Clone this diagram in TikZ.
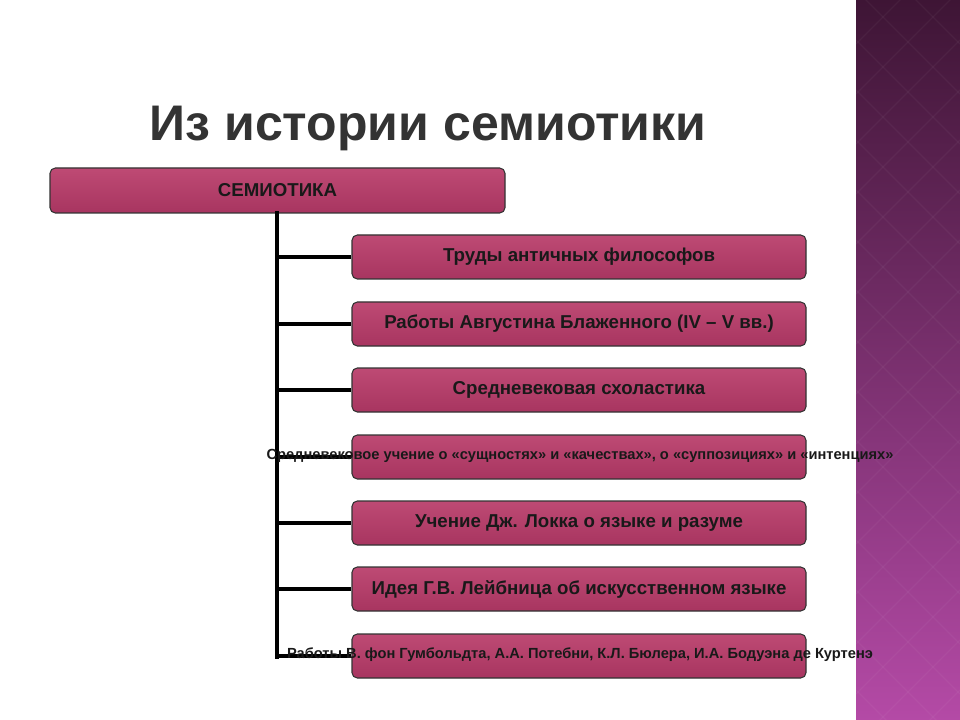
\documentclass[tikz,border=0pt]{standalone}
\usepackage{fontspec}
\setmainfont{Liberation Sans}
\begin{document}
\begin{tikzpicture}[x=0.75pt,y=-0.75pt,
  box/.style={draw=black!80,line width=0.8pt,rounded corners=4pt,top color=boxtop,bottom color=boxbot},
  lbl/.style={font=\bfseries\fontsize{14}{16}\selectfont,text=black!90},
  small/.style={font=\bfseries\fontsize{11}{13}\selectfont,text=black!90},
  conn/.style={line width=3.6pt,black}]
\definecolor{boxtop}{HTML}{BE4A74}
\definecolor{boxbot}{HTML}{A83560}
\definecolor{stripT}{HTML}{3E1535}
\definecolor{stripB}{HTML}{B44AA6}
\useasboundingbox (0,0) rectangle (960,720);
\fill[white] (0,0) rectangle (960,720);
\shade[top color=stripT,bottom color=stripB] (856,0) rectangle (960,720);
\foreach \i in {0,...,16}{
  \draw[white,opacity=0.04,line width=1pt] (856,\i*50-60) -- (960,\i*50+44);
  \draw[white,opacity=0.04,line width=1pt] (960,\i*50-60) -- (856,\i*50+44);}
\node[font=\bfseries\fontsize{37.5}{42}\selectfont,text=black!80] (title) at (428,128) {Из истории семиотики};
\node[box,minimum width=455*0.75pt,minimum height=45*0.75pt] (top) at (277.5,190.5) {};
\node[lbl] (topt) at (top) {СЕМИОТИКА};
\coordinate (v0) at (277,213);
\coordinate (v1) at (277,657);
\draw[conn,line cap=rect] (v0) -- (v1);
\foreach \n/\y in {1/257,2/324,3/390,4/457,5/523,6/589,7/656}{
  \node[box,minimum width=454*0.75pt,minimum height=44*0.75pt] (b\n) at (579,\y) {};
  \coordinate (c\n) at (277,\y);
  \draw[conn] (c\n) -- (b\n.west);
}
\node[lbl] at (b1) {Труды античных философов};
\node[lbl] at (b2) {Работы Августина Блаженного (IV – V вв.)};
\node[lbl] at (b3) {Средневековая схоластика};
\node[small] at (580,456) {Средневековое учение о «сущностях» и «качествах», о «суппозициях» и «интенциях»};
\node[lbl] at (b5) {Учение Дж. Локка о языке и разуме};
\node[lbl] at (b6) {Идея Г.В. Лейбница об искусственном языке};
\node[small] at (580,655) {Работы В. фон Гумбольдта, А.А. Потебни, К.Л. Бюлера, И.А. Бодуэна де Куртенэ};
\end{tikzpicture}
\end{document}
